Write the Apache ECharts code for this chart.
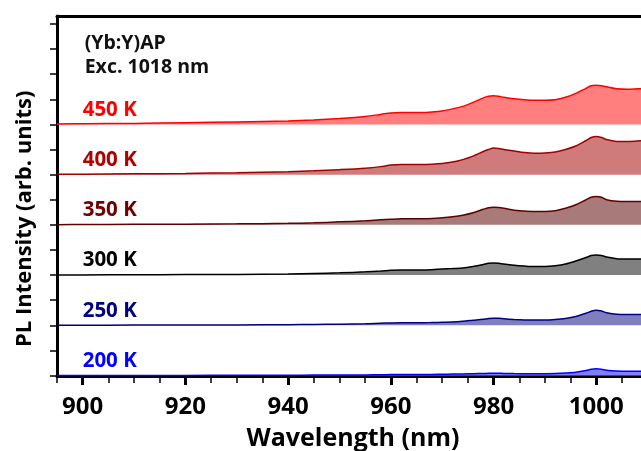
<!DOCTYPE html>
<html>
<head>
<meta charset="utf-8">
<script src="https://cdn.jsdelivr.net/npm/echarts@6/dist/echarts.min.js"></script>
<style>
html,body{margin:0;padding:0;background:#fff;}
#chart{width:641px;height:451px;}
</style>
</head>
<body>
<div id="chart"></div>
<script>
// Wavelength grid (nm)
const wavelengths = [895, 900, 910, 920, 930, 940, 945, 950, 955, 958, 960, 962, 964, 966, 968, 970, 972, 974, 976, 978, 979, 980, 981, 982, 984, 986, 988, 990, 992, 994, 996, 998, 999, 1000, 1001, 1002, 1004, 1006, 1008, 1010];

// PL intensities (arb. units, relative to each curve's baseline)
const pl450 = [0.01, 0.014, 0.02, 0.036, 0.05, 0.07, 0.09, 0.12, 0.16, 0.2, 0.23, 0.24, 0.24, 0.24, 0.25, 0.27, 0.31, 0.36, 0.44, 0.53, 0.56, 0.57, 0.56, 0.54, 0.51, 0.49, 0.48, 0.48, 0.49, 0.54, 0.62, 0.72, 0.77, 0.78, 0.77, 0.75, 0.71, 0.70, 0.71, 0.72];
const pl400 = [0.006, 0.01, 0.016, 0.024, 0.04, 0.06, 0.076, 0.1, 0.13, 0.16, 0.19, 0.2, 0.2, 0.2, 0.206, 0.22, 0.25, 0.3, 0.37, 0.46, 0.5, 0.53, 0.52, 0.5, 0.47, 0.44, 0.426, 0.43, 0.45, 0.5, 0.57, 0.68, 0.74, 0.76, 0.74, 0.7, 0.66, 0.66, 0.67, 0.68];
const pl350 = [0.004, 0.006, 0.01, 0.014, 0.02, 0.03, 0.04, 0.06, 0.08, 0.1, 0.11, 0.12, 0.12, 0.12, 0.126, 0.14, 0.16, 0.19, 0.24, 0.31, 0.34, 0.35, 0.346, 0.33, 0.29, 0.276, 0.266, 0.266, 0.28, 0.33, 0.4, 0.5, 0.55, 0.566, 0.55, 0.5, 0.47, 0.466, 0.466, 0.47];
const pl300 = [0.002, 0.004, 0.006, 0.01, 0.014, 0.02, 0.03, 0.044, 0.064, 0.08, 0.094, 0.1, 0.1, 0.1, 0.106, 0.12, 0.13, 0.14, 0.17, 0.21, 0.234, 0.24, 0.236, 0.22, 0.196, 0.18, 0.17, 0.17, 0.186, 0.22, 0.28, 0.35, 0.39, 0.4, 0.39, 0.36, 0.326, 0.32, 0.32, 0.324];
const pl250 = [0.002, 0.002, 0.004, 0.006, 0.008, 0.012, 0.016, 0.022, 0.03, 0.04, 0.046, 0.05, 0.05, 0.05, 0.054, 0.06, 0.066, 0.08, 0.1, 0.12, 0.134, 0.14, 0.138, 0.13, 0.116, 0.106, 0.104, 0.104, 0.114, 0.136, 0.176, 0.24, 0.28, 0.3, 0.284, 0.25, 0.22, 0.216, 0.216, 0.22];
const pl200 = [0, 0, 0.002, 0.002, 0.004, 0.006, 0.008, 0.01, 0.012, 0.016, 0.018, 0.02, 0.02, 0.02, 0.022, 0.024, 0.028, 0.032, 0.036, 0.04, 0.044, 0.046, 0.044, 0.042, 0.038, 0.036, 0.034, 0.036, 0.04, 0.05, 0.066, 0.1, 0.124, 0.134, 0.124, 0.104, 0.09, 0.086, 0.086, 0.088];

const temperatures = ['200 K', '250 K', '300 K', '350 K', '400 K', '450 K'];
const offsets = [0, 1, 2, 3, 4, 5];
const spectra = [pl200, pl250, pl300, pl350, pl400, pl450];

// Axis tick values
const xMajorTicks = [900, 920, 940, 960, 980, 1000];
const xMinorTicks = [895, 905, 910, 915, 925, 930, 935, 945, 950, 955, 965, 970, 975, 985, 990, 995, 1005];
const yTicks = [0, 0.5, 1, 1.5, 2, 2.5, 3, 3.5, 4, 4.5, 5, 5.5, 6, 6.5, 7];

const lineColors = ['#0000ff', '#000080', '#000000', '#600000', '#a00000', '#ff0000'];
const fillColors = ['#8080ff', '#7f7fc0', '#808080', '#a97a7a', '#d07b7b', '#ff7f7f'];
const labelColors = ['#0000ff', '#000080', '#000000', '#700000', '#b00000', '#ff0000'];

const FONT = "'Open Sans', 'Noto Sans', sans-serif";
const X_MIN = 895, X_MAX = 1008.7, Y_MIN = -0.01, Y_MAX = 7.16;

const chart = echarts.init(document.getElementById('chart'), null, {renderer: 'canvas'});

const series = spectra.map((arr, i) => ({
  type: 'line',
  name: temperatures[i],
  xAxisIndex: 0,
  yAxisIndex: 0,
  smooth: 0.3,
  symbol: 'none',
  clip: true,
  z: 3 + i,
  lineStyle: {color: lineColors[i], width: 1.5},
  areaStyle: {color: fillColors[i], opacity: 1, origin: offsets[i]},
  data: wavelengths.map((w, k) => [w, offsets[i] + arr[k]])
}));

const option = {
  animation: false,
  backgroundColor: '#ffffff',
  grid: {left: 57, right: 0, top: 16, bottom: 75, containLabel: false, outerBoundsMode: 'none'},
  xAxis: [
    {
      type: 'value', min: X_MIN, max: X_MAX, position: 'bottom',
      name: 'Wavelength (nm)', nameLocation: 'middle', nameGap: 50,
      nameTextStyle: {fontFamily: FONT, fontWeight: 'bold', fontSize: 25, color: '#000', padding: [0, 0, 0, 8]},
      axisLine: {show: true, onZero: false, lineStyle: {color: '#000', width: 3}},
      axisTick: {show: true, customValues: xMajorTicks, inside: false, length: 9, lineStyle: {color: '#000', width: 3}},
      axisLabel: {show: true, customValues: xMajorTicks, margin: 19, fontFamily: FONT, fontWeight: 'bold', fontSize: 24, color: '#000',
        formatter: v => String(v)},
      splitLine: {show: false}
    },
    {
      type: 'value', min: X_MIN, max: X_MAX, position: 'bottom',
      axisLine: {show: false, onZero: false},
      axisTick: {show: true, customValues: xMinorTicks, inside: false, length: 7, lineStyle: {color: '#000', width: 1.5}},
      axisLabel: {show: false},
      splitLine: {show: false}
    },
    {
      type: 'value', min: X_MIN, max: X_MAX, position: 'top',
      axisLine: {show: true, onZero: false, lineStyle: {color: '#000', width: 3}},
      axisTick: {show: false},
      axisLabel: {show: false},
      splitLine: {show: false}
    }
  ],
  yAxis: [
    {
      type: 'value', min: Y_MIN, max: Y_MAX, position: 'left',
      axisLine: {show: true, onZero: false, lineStyle: {color: '#000', width: 3}},
      axisTick: {show: true, customValues: yTicks, inside: false, length: 7, lineStyle: {color: '#000', width: 1.5}},
      axisLabel: {show: false},
      splitLine: {show: false}
    }
  ],
  series: series
};

chart.setOption(option);

// Text annotations positioned in data coordinates
const graphics = [];
const toPx = (x, y) => chart.convertToPixel({xAxisIndex: 0, yAxisIndex: 0}, [x, y]);
const titlePos1 = toPx(900, 6.62);
const titlePos2 = toPx(900, 6.14);
graphics.push({type: 'text', x: titlePos1[0] + 2, y: titlePos1[1], z: 20,
  style: {text: '(Yb:Y)AP', font: "bold 19.5px " + FONT, fill: '#111', verticalAlign: 'middle', align: 'left'}});
graphics.push({type: 'text', x: titlePos2[0] + 2, y: titlePos2[1], z: 20,
  style: {text: 'Exc. 1018 nm', font: "bold 19.5px " + FONT, fill: '#111', verticalAlign: 'middle', align: 'left'}});
temperatures.forEach((t, i) => {
  const p = toPx(900, offsets[i] + 0.29);
  graphics.push({type: 'text', x: p[0], y: p[1], z: 20,
    style: {text: t, font: "bold 20.5px " + FONT, fill: labelColors[i], verticalAlign: 'middle', align: 'left'}});
});
// Y-axis title
const yTitleAnchor = toPx(X_MIN, 3.12);
graphics.push({type: 'text', x: 25, y: yTitleAnchor[1], rotation: Math.PI / 2, z: 20,
  style: {text: 'PL Intensity (arb. units)', font: "bold 22px " + FONT, fill: '#000', verticalAlign: 'middle', align: 'center'}});
chart.setOption({graphic: graphics});
</script>
</body>
</html>
